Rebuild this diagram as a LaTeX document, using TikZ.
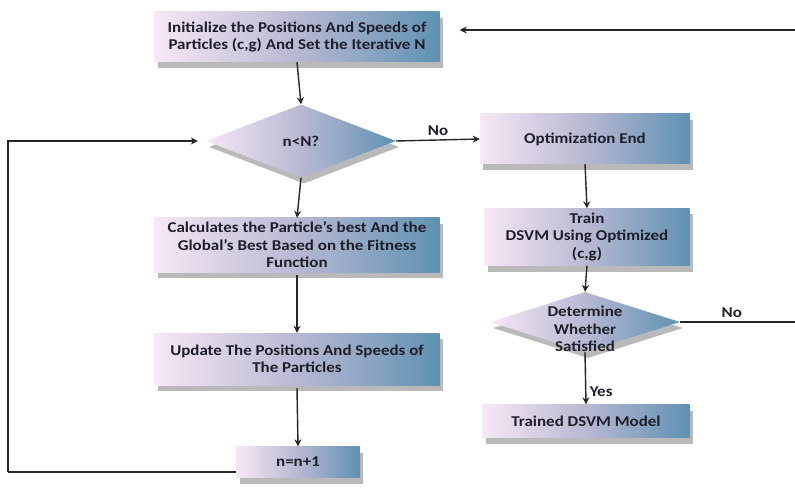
\documentclass[tikz,border=0pt]{standalone}
\usepackage{fontspec}
\setmainfont{Carlito}[FakeStretch=1.13]
\usetikzlibrary{shapes.geometric,shadows,arrows.meta}
\definecolor{boxL}{RGB}{246,232,245}
\definecolor{boxM}{RGB}{184,184,210}
\definecolor{boxR}{RGB}{95,145,178}
\definecolor{txt}{RGB}{30,30,42}
\tikzset{
  fl/.style={left color=boxL, right color=boxR, middle color=boxM, draw=none,
    drop shadow={shadow xshift=3pt, shadow yshift=-6pt, fill=black!50, opacity=.55}},
  procbox/.style={fl, rectangle, inner sep=0pt, align=center, text=txt,
    font=\bfseries\fontsize{15}{17.5}\selectfont},
  decis/.style={fl, diamond, inner sep=0pt, aspect=2.6},
  lbl/.style={text=txt, font=\bfseries\fontsize{15}{17.5}\selectfont, align=center},
  arr/.style={draw=black!85, line width=1.4pt, -{Stealth[length=7pt,width=7pt]}},
  ln/.style={draw=black!85, line width=1.4pt}
}
\begin{document}
\begin{tikzpicture}[x=1pt,y=-1pt]
\useasboundingbox (0,0) rectangle (795,489);
\node[procbox, minimum width=285, minimum height=50] (init) at (297,37)
  {Initialize the Positions And Speeds of\\Particles (c,g) And Set the Iterative N};
\node[decis, minimum width=190, minimum height=73] (d1) at (301,141) {};
\node[lbl] (d1t) at (d1.center) {n<N?};
\node[procbox, minimum width=285, minimum height=54] (calc) at (297,245)
  {Calculates the Particle’s best And the\\Global’s Best Based on the Fitness\\Function};
\node[procbox, minimum width=285, minimum height=52] (upd) at (297,359)
  {Update The Positions And Speeds of\\The Particles};
\node[procbox, minimum width=123, minimum height=31] (inc) at (298,462) {n=n+1};
\node[procbox, minimum width=210, minimum height=50] (opt) at (585,139) {Optimization End};
\node[procbox, minimum width=205, minimum height=57] (train) at (587,237)
  {Train\\DSVM Using Optimized\\(c,g)};
\node[decis, minimum width=190, minimum height=60] (d2) at (585,322) {};
\node[lbl] (d2t) at (585,329) {Determine\\Whether\\Satisfied};
\node[procbox, minimum width=207, minimum height=33] (model) at (586,421) {Trained DSVM Model};

\coordinate (rt) at (795,30);
\coordinate (rn) at (795,322);
\coordinate (lb) at (8,472);

\draw[arr] (init.south) -- (d1.north);
\draw[arr] (d1.south) -- (calc.north);
\draw[arr] ([yshift=-3pt]calc.south) -- (upd.north);
\draw[arr] ([yshift=-3pt]upd.south) -- (inc.north);
\draw[ln] (inc.west |- lb) -- (lb);
\draw[arr] (lb) |- ([xshift=-8pt]d1.west);
\draw[arr] (d1.east) -- node[lbl, above] {No} (opt.west);
\draw[arr] (opt.south) -- (train.north);
\draw[arr] (train.south) -- (d2.north);
\draw[arr] (d2.south) -- node[lbl, right, pos=0.75] {Yes} (model.north);
\draw[ln] (d2.east) -- node[lbl, above, pos=0.45] {No} (rn);
\draw[arr, shorten >=20pt] (rt) -- (init.east |- rt);
\end{tikzpicture}
\end{document}
